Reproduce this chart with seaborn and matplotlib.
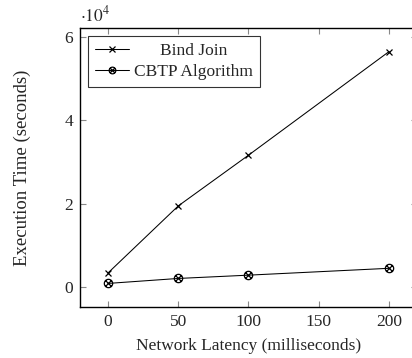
import matplotlib
matplotlib.use("Agg")
import matplotlib.pyplot as plt
import seaborn as sns
import pandas as pd
from matplotlib.path import Path

latency = [0, 50, 100, 200]
bind_join = [3400, 19450, 31600, 56400]
cbtp = [880, 2070, 2860, 4500]
methods = ["Bind Join", "CBTP Algorithm"]
yticks = [0, 20000, 40000, 60000]
ytick_labels = ["0", "2", "4", "6"]
xticks = [0, 50, 100, 150, 200]

sns.set_style("ticks")
plt.rcParams["font.family"] = ["Liberation Serif", "DejaVu Serif"]
plt.rcParams["mathtext.fontset"] = "stix"

df = pd.DataFrame({
    "Latency": latency * 2,
    "Time": bind_join + cbtp,
    "Method": [methods[0]] * len(latency) + [methods[1]] * len(latency),
})

# circle with a cross inside, like pgfplots otimes
circ = Path.unit_circle()
d = 0.7071
cross = Path([(-d, -d), (d, d), (-d, d), (d, -d)],
             [Path.MOVETO, Path.LINETO, Path.MOVETO, Path.LINETO])
otimes = Path.make_compound_path(circ, cross)

fig = plt.figure(figsize=(4.12, 3.58), dpi=100)
ax = fig.add_axes([80 / 412, 51 / 358, 337 / 412, 279 / 358])

sns.lineplot(data=df, x="Latency", y="Time", style="Method", ax=ax,
             color="black", lw=0.75, dashes=False, markers=True, legend=False)

# restyle the markers to look like pgfplots
l1, l2 = ax.lines[0], ax.lines[1]
l1.set_marker("x")
l1.set_markersize(4.6)
l1.set_markeredgewidth(0.9)
l1.set_markeredgecolor("black")
l2.set_marker(otimes)
l2.set_markersize(6.0)
l2.set_markeredgewidth(0.9)
l2.set_markeredgecolor("black")
l2.set_markerfacecolor("none")

ax.set_xlim(-20, 220)
ax.set_ylim(-4770, 62070)
ax.set_xticks(xticks)
ax.set_yticks(yticks, labels=ytick_labels)
ax.tick_params(direction="in", length=4.3, width=0.8, color="#888888",
               top=True, right=True, labelsize=12.5, pad=5)
for s in ax.spines.values():
    s.set_linewidth(1.0)
    s.set_color("black")

ax.set_xlabel("Network Latency (milliseconds)", fontsize=12.5, labelpad=6)
ax.set_ylabel("Execution Time (seconds)", fontsize=13.5, labelpad=24)
ax.text(0.0, 1.01, r"$\cdot 10^4$", transform=ax.transAxes, fontsize=12.5,
        ha="left", va="bottom")

leg = ax.legend([l1, l2], methods, loc="upper left",
                bbox_to_anchor=(0.0, 1.0), frameon=True,
                fancybox=False, edgecolor="black", fontsize=12.5,
                handlelength=2.0, handletextpad=0.25, borderpad=0.4,
                labelspacing=0.3, borderaxespad=0.45, markerscale=0.8)
leg.get_frame().set_linewidth(0.8)

# center the legend entries like pgfplots does
fig.canvas.draw()
r = fig.canvas.get_renderer()
texts = leg.get_texts()
widths = [t.get_window_extent(r).width for t in texts]
mw = max(widths)
for t, w in zip(texts, widths):
    t.set_x((mw - w) / 2)

fig.savefig("out.png", dpi=100)
